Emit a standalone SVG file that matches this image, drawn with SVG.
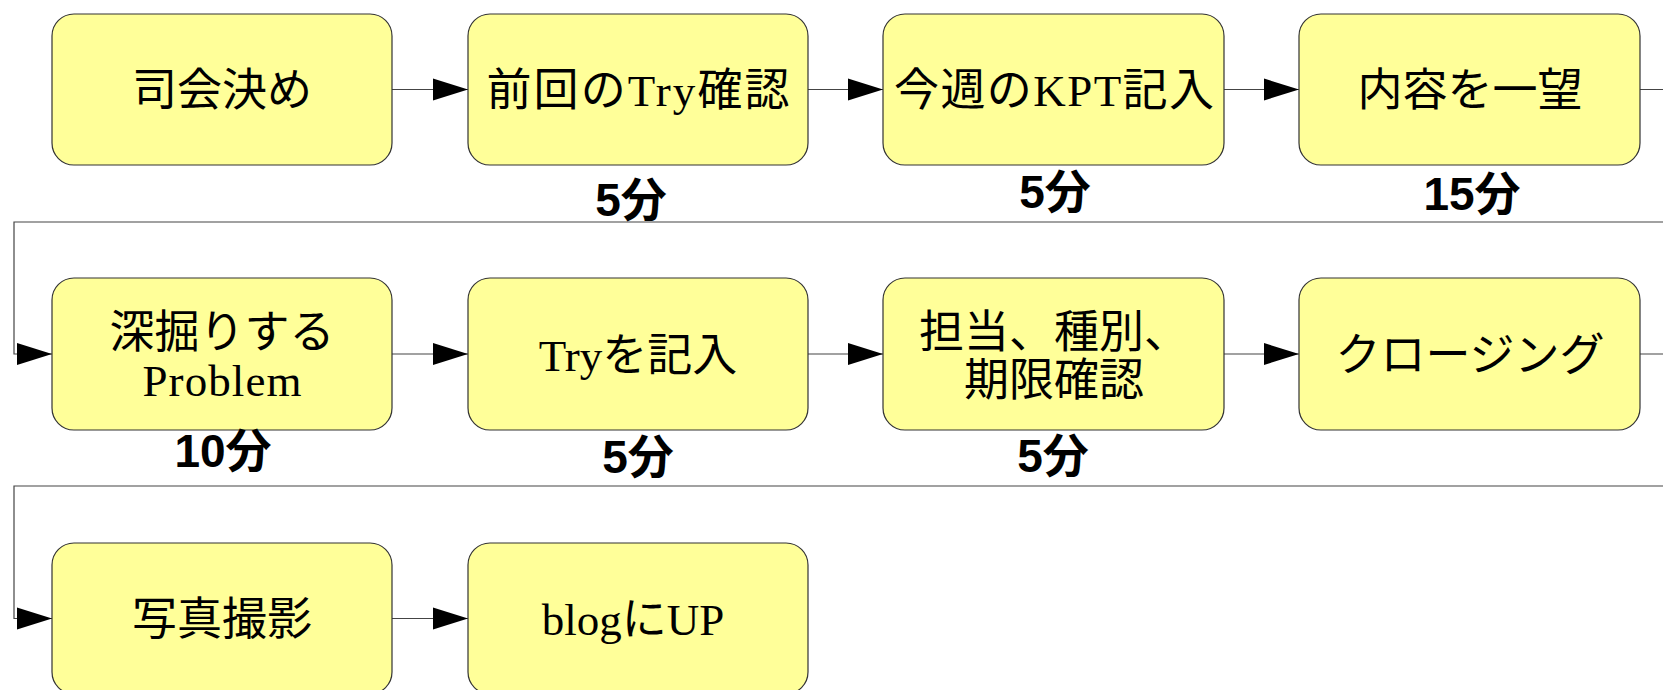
<svg xmlns="http://www.w3.org/2000/svg" width="1663" height="690" viewBox="0 0 1663 690">
<defs>
<style>
.box{fill:#ffff99;stroke:#333;stroke-width:1.2}
.t{font-family:"Liberation Serif","Noto Sans CJK JP",serif;font-size:45px;fill:#000;text-anchor:middle}
.lbl{font-family:"Liberation Sans","Noto Sans CJK JP",sans-serif;font-size:46px;font-weight:bold;fill:#000;text-anchor:middle}
.c{fill:none;stroke:#444;stroke-width:1.2;marker-end:url(#ah)}
</style>
<marker id="ah" markerUnits="userSpaceOnUse" markerWidth="36" markerHeight="24" refX="35" refY="12" orient="auto">
<path d="M0,1 L35,12 L0,23 z" fill="#000"/>
</marker>
</defs>
<rect width="1663" height="690" fill="#fff"/>
<g id="connectors">
<path class="c" d="M392,89.5 H468"/>
<path class="c" d="M808,89.5 H883"/>
<path class="c" d="M1224,89.5 H1299"/>
<path class="c" d="M1640,89.5 H1690 V222 H14 V354 H52"/>
<path class="c" d="M392,354 H468"/>
<path class="c" d="M808,354 H883"/>
<path class="c" d="M1224,354 H1299"/>
<path class="c" d="M1640,354 H1690 V486 H14 V618.5 H52"/>
<path class="c" d="M392,618.5 H468"/>
</g>
<g id="n1"><rect class="box" x="52" y="14" width="340" height="151" rx="22"/><text class="t" x="222" y="106">司会決め</text></g>
<g id="n2"><rect class="box" x="468" y="14" width="340" height="151" rx="22"/><text class="t" x="638" y="106" textLength="303" lengthAdjust="spacing">前回のTry確認</text></g>
<g id="n3"><rect class="box" x="883" y="14" width="341" height="151" rx="22"/><text class="t" x="1054" y="106" textLength="320" lengthAdjust="spacing">今週のKPT記入</text></g>
<g id="n4"><rect class="box" x="1299" y="14" width="341" height="151" rx="22"/><text class="t" x="1470" y="106">内容を一望</text></g>
<g id="n5"><rect class="box" x="52" y="278" width="340" height="152" rx="22"/><text class="t" x="222" y="348">深掘りする</text><text class="t" x="222" y="396" textLength="159" lengthAdjust="spacing">Problem</text></g>
<g id="n6"><rect class="box" x="468" y="278" width="340" height="152" rx="22"/><text class="t" x="638" y="371">Tryを記入</text></g>
<g id="n7"><rect class="box" x="883" y="278" width="341" height="152" rx="22"/><text class="t" x="1054" y="348">担当、種別、</text><text class="t" x="1054" y="396">期限確認</text></g>
<g id="n8"><rect class="box" x="1299" y="278" width="341" height="152" rx="22"/><text class="t" x="1470" y="371">クロージング</text></g>
<g id="n9"><rect class="box" x="52" y="543" width="340" height="151" rx="22"/><text class="t" x="222" y="635">写真撮影</text></g>
<g id="n10"><rect class="box" x="468" y="543" width="340" height="151" rx="22"/><text class="t" x="633" y="635">blogにUP</text></g>
<g id="labels">
<text class="lbl" x="631" y="216">5分</text>
<text class="lbl" x="1055" y="208">5分</text>
<text class="lbl" x="1472" y="210">15分</text>
<text class="lbl" x="223" y="467">10分</text>
<text class="lbl" x="638" y="473">5分</text>
<text class="lbl" x="1053" y="472">5分</text>
</g>
</svg>
